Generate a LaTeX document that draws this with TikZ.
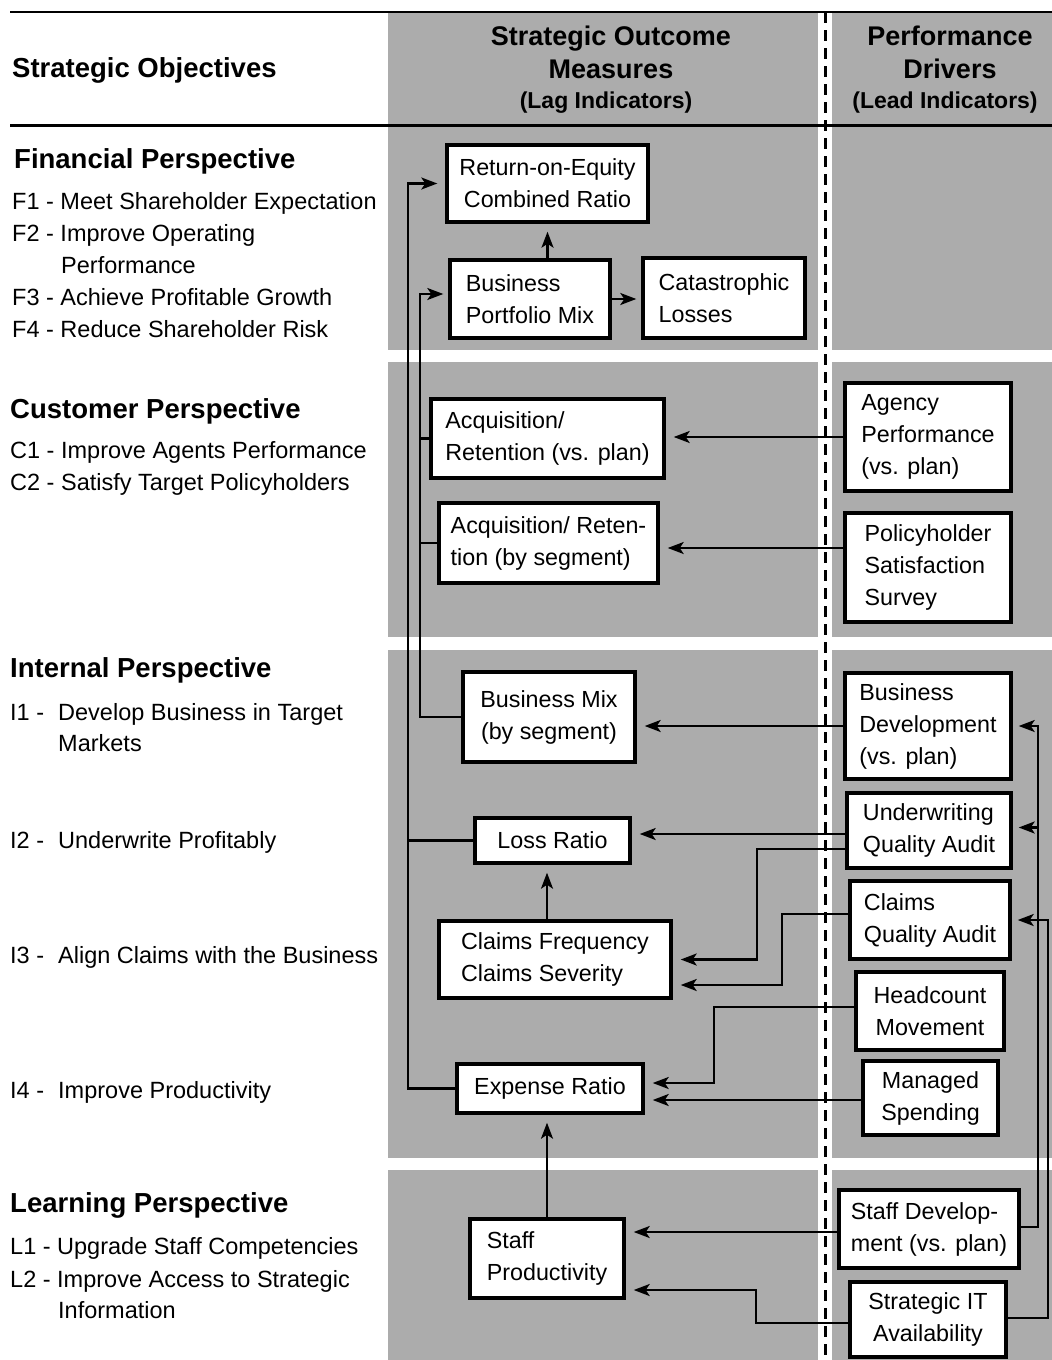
\documentclass[tikz,border=0pt]{standalone}
\usepackage{fontspec}
\setmainfont{Liberation Sans}
\usetikzlibrary{arrows.meta,calc}
\definecolor{bandgray}{RGB}{172,172,172}
\begin{document}
\begin{tikzpicture}[x=1pt,y=-1pt,
  mbox/.style={draw, line width=3.4pt, fill=white, inner sep=0pt, font=\fontsize{23.3}{32}\selectfont},
  arr/.style={line width=2.4pt, -{Stealth[length=16pt,width=12pt,inset=4pt]}, shorten >=8pt},
  ln/.style={line width=2.2pt},
  lbl/.style={anchor=base west, inner sep=0pt, font=\fontsize{23.5}{32}\selectfont},
  phead/.style={anchor=base west, inner sep=0pt, font=\bfseries\fontsize{27.5}{32}\selectfont},
  chead/.style={anchor=base, inner sep=0pt, font=\bfseries\fontsize{27}{32}\selectfont},
  csub/.style={anchor=base, inner sep=0pt, font=\bfseries\fontsize{23}{32}\selectfont}]
\useasboundingbox (0,0) rectangle (1052,1360);
% gray bands
\foreach \ya/\yb in {12/350, 362/637, 650/1158, 1170/1360}{
  \fill[bandgray] (388,\ya) rectangle (818,\yb);
  \fill[bandgray] (832,\ya) rectangle (1052,\yb);
}
% header rules
\draw[line width=2.5pt] (10,12) -- (1052,12);
\draw[line width=3pt] (10,125) -- (1052,125);
% dashed divider
\draw[line width=3pt, dash pattern=on 11pt off 7pt] (825,12) -- (825,1360);

% column headings
\node[phead] (hobj) at (12,77) {Strategic Objectives};
\node[chead] (hso1) at (611,45) {Strategic Outcome};
\node[chead] (hso2) at (611,78) {Measures};
\node[csub]  (hso3) at (606,108) {(Lag Indicators)};
\node[chead] (hpd1) at (950,45) {Performance};
\node[chead] (hpd2) at (950,78) {Drivers};
\node[csub]  (hpd3) at (945,108) {(Lead Indicators)};

% left column text
\node[phead] (fp) at (14,168) {Financial Perspective};
\node[lbl] (f1) at (12,209.5) {F1 - Meet Shareholder Expectation};
\node[lbl] (f2) at (12,241.5) {F2 - Improve Operating};
\node[lbl] (f2b) at (61,273.5) {Performance};
\node[lbl] (f3) at (12,305.5) {F3 - Achieve Profitable Growth};
\node[lbl] (f4) at (12,337.5) {F4 - Reduce Shareholder Risk};

\node[phead] (cp) at (10,418) {Customer Perspective};
\node[lbl] (c1) at (10,458.5) {C1 - Improve Agents Performance};
\node[lbl] (c2) at (10,490.5) {C2 - Satisfy Target Policyholders};

\node[phead] (ip) at (10,677) {Internal Perspective};
\node[lbl] (i1) at (10,720.5) {I1 -};
\node[lbl] (i1t) at (58,720.5) {Develop Business in Target};
\node[lbl] (i1b) at (58,751.5) {Markets};
\node[lbl] (i2) at (10,848.5) {I2 -};
\node[lbl] (i2t) at (58,848.5) {Underwrite Profitably};
\node[lbl] (i3) at (10,963.5) {I3 -};
\node[lbl] (i3t) at (58,963.5) {Align Claims with the Business};
\node[lbl] (i4) at (10,1098.5) {I4 -};
\node[lbl] (i4t) at (58,1098.5) {Improve Productivity};

\node[phead] (lp) at (10,1212) {Learning Perspective};
\node[lbl] (l1) at (10,1254.5) {L1 - Upgrade Staff Competencies};
\node[lbl] (l2) at (10,1287.5) {L2 - Improve Access to Strategic};
\node[lbl] (l2b) at (58,1318.5) {Information};

\coordinate (xa) at (408,0);
\coordinate (xb) at (420,0);
\coordinate (xc) at (1038,0);
\coordinate (xd) at (1048,0);

% boxes
\node[mbox, minimum width=201pt, minimum height=77pt, align=center] (roe) at (547.5,183.5) {Return-on-Equity\\Combined Ratio};
\node[mbox, minimum width=160pt, minimum height=78pt, align=left] (bpm) at (530,299) {Business\\Portfolio Mix};
\node[mbox, minimum width=162pt, minimum height=80pt, align=left] (cat) at (724,298) {Catastrophic\\Losses};
\node[mbox, minimum width=233pt, minimum height=79pt, align=left] (arp) at (547.5,438.5) {Acquisition/\\Retention (vs. plan)};
\node[mbox, minimum width=219pt, minimum height=80pt, align=left] (ars) at (548.5,543) {Acquisition/ Reten-\\tion (by segment)};
\node[mbox, minimum width=166pt, minimum height=108pt, align=left] (agp) at (928,437) {Agency\\Performance\\(vs. plan)};
\node[mbox, minimum width=166pt, minimum height=109pt, align=left] (pss) at (928,567.5) {Policyholder\\Satisfaction\\Survey};
\node[mbox, minimum width=172pt, minimum height=90pt, align=center] (bmx) at (549,717) {Business Mix\\(by segment)};
\node[mbox, minimum width=166pt, minimum height=106pt, align=left] (bdv) at (928,726) {Business\\Development\\(vs. plan)};
\node[mbox, minimum width=164pt, minimum height=75pt, align=left] (uqa) at (929,830.5) {Underwriting\\Quality Audit};
\node[mbox, minimum width=155pt, minimum height=45pt] (lr) at (552.5,840.5) {Loss Ratio};
\node[mbox, minimum width=232pt, minimum height=77pt, align=left] (cfs) at (555,959.5) {Claims Frequency\\Claims Severity};
\node[mbox, minimum width=160pt, minimum height=78pt, align=left] (cqa) at (930,920) {Claims\\Quality Audit};
\node[mbox, minimum width=148pt, minimum height=78pt, align=center] (hcm) at (930,1011) {Headcount\\Movement};
\node[mbox, minimum width=135pt, minimum height=74pt, align=center] (msp) at (930.5,1098) {Managed\\Spending};
\node[mbox, minimum width=186pt, minimum height=49pt] (exr) at (550,1088.5) {Expense Ratio};
\node[mbox, minimum width=154pt, minimum height=79pt, align=left] (spr) at (547,1258.5) {Staff\\Productivity};
\node[mbox, minimum width=180pt, minimum height=78pt, align=left] (sdv) at (929,1229) {Staff Develop-\\ment (vs. plan)};
\node[mbox, minimum width=156pt, minimum height=75pt, align=center] (sit) at (928,1319.5) {Strategic IT\\Availability};

% financial internal links
\draw[arr] (bpm.north -| roe.south) -- (roe.south);
\draw[arr, shorten >=5pt] (bpm.east) -- (bpm.east -| cat.west);

% left feedback lines
\draw[arr, line width=2.2pt] (exr.west) -| (xa |- roe.west) -- (roe.west);
\draw[ln] (lr.west) -- (lr.west -| xa);
\draw[arr, line width=2.2pt, shorten >=5pt] (bmx.west) -| ($(xb |- bpm.west)+(0,-5)$) -- ($(bpm.west)+(0,-5)$);
\draw[ln] (arp.west) -- (arp.west -| xb);
\draw[ln] (ars.west) -- (ars.west -| xb);

% drivers to outcomes
\draw[arr] (agp.west) -- (agp.west -| arp.east);
\draw[arr] ($(pss.west |- ars.east)+(0,5)$) -- ($(ars.east)+(0,5)$);
\draw[arr] (bdv.west) -- (bdv.west -| bmx.east);
\draw[arr] ($(uqa.west)+(0,3.5)$) -- ($(lr.east)+(0,-6.5)$);
\draw[arr] ($(uqa.west)+(0,18.5)$) -| ($(cfs.east)+(84,0)$) -- (cfs.east);
\draw[arr] ($(cqa.west)+(0,-6)$) -| ($(cfs.east)+(109,25.5)$) -- ($(cfs.east)+(0,25.5)$);
\draw[arr] ($(cfs.north)+(-8,0)$) -- ($(lr.south)+(-5.5,0)$);
\draw[arr] ($(hcm.west)+(0,-4)$) -| ($(exr.east)+(69,-5.5)$) -- ($(exr.east)+(0,-5.5)$);
\draw[arr] ($(msp.west)+(0,2)$) -- ($(exr.east)+(0,11.5)$);
\draw[arr] (spr.north) -- (spr.north |- exr.south);
\draw[arr] ($(sdv.west)+(0,3)$) -- ($(spr.east)+(0,-26.5)$);
\draw[arr] ($(sit.west)+(0,3.5)$) -| ($(spr.east)+(130,31.5)$) -- ($(spr.east)+(0,31.5)$);

% right feedback lines
\draw[arr, shorten >=6pt] ($(sdv.east)+(0,-2)$) -| (xc |- bdv.east) -- (bdv.east);
\draw[arr, shorten >=6pt] ($(xc |- uqa.east)+(0,-3)$) -- ($(uqa.east)+(0,-3)$);
\draw[arr, shorten >=6pt] ($(sit.east)+(0,-1.5)$) -| (xd |- cqa.east) -- (cqa.east);
\end{tikzpicture}
\end{document}
